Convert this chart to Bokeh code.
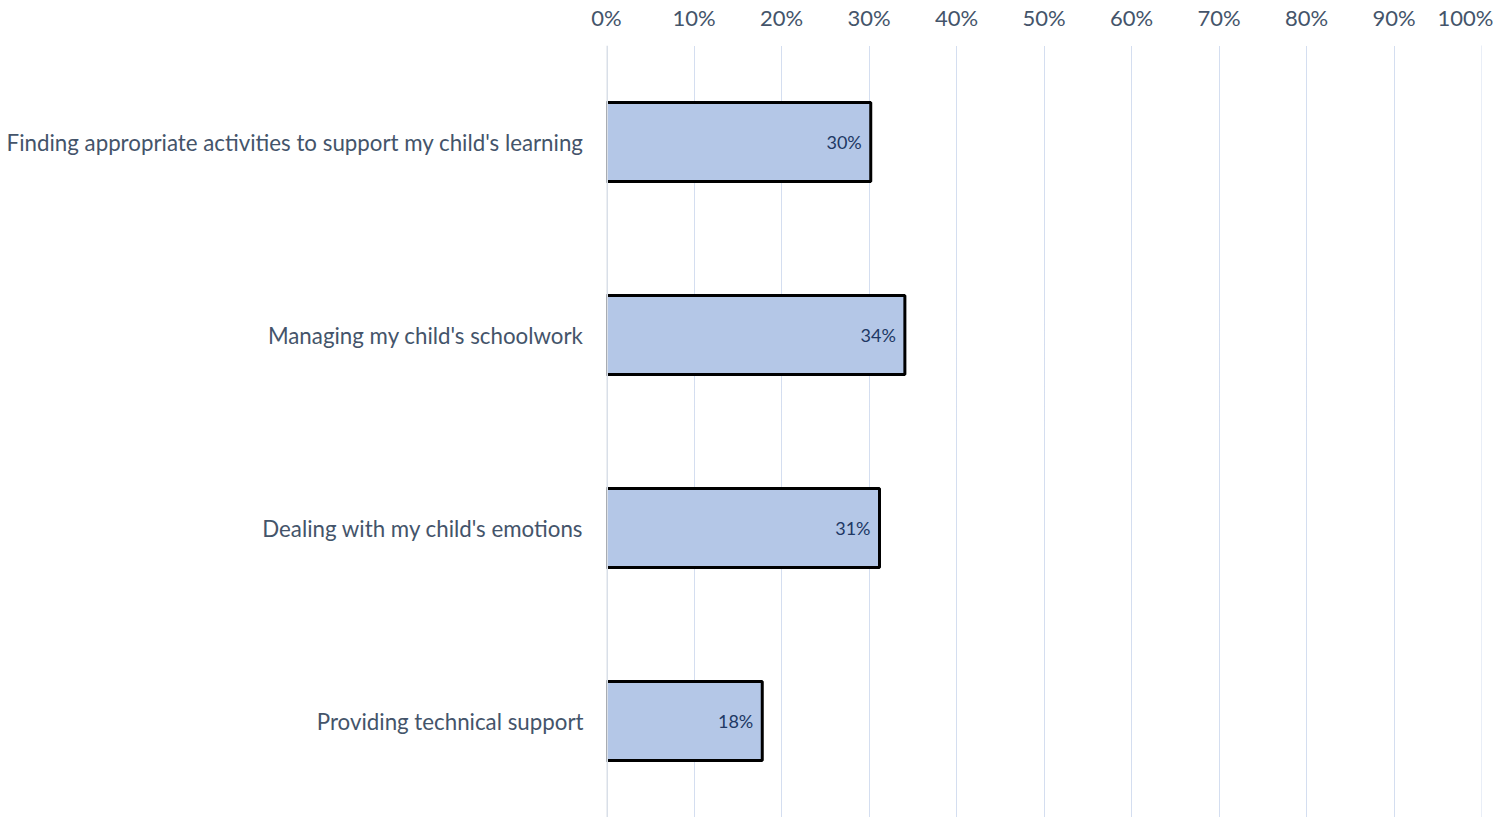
from bokeh.plotting import figure
from bokeh.models import ColumnDataSource, FixedTicker, NumeralTickFormatter, LabelSet, Span
from bokeh.core.properties import value
from bokeh.embed import file_html
from bokeh.resources import INLINE

categories = [
    "Finding appropriate activities to support my child's learning",
    "Managing my child's schoolwork",
    "Dealing with my child's emotions",
    "Providing technical support",
]
values = [0.302, 0.341, 0.312, 0.178]
labels = ["30%", "34%", "31%", "18%"]
ticks = [i / 10 for i in range(11)]

FONT = "Lato"
src = ColumnDataSource(dict(cat=categories, val=values, lab=labels))

p = figure(
    width=1493, height=817,
    y_range=list(reversed(categories)),
    x_range=(0, 1),
    x_axis_location="above",
    output_backend="svg", toolbar_location=None,
    min_border_left=606, min_border_right=12, min_border_top=38, min_border_bottom=0,
)
p.outline_line_color = None
p.background_fill_color = "white"

p.hbar(y="cat", right="val", left=0, height=0.41, source=src,
       fill_color="#B4C7E7", line_color="black", line_width=3)

p.add_layout(Span(location=0, dimension="height", line_color="#D9DFE8", line_width=3))
p.add_layout(Span(location=ticks[-1], dimension="height", line_color="#A9BCE0",
                  line_width=1, line_dash="1 1"))

p.add_layout(LabelSet(x="val", y="cat", text="lab", source=src, x_offset=-9,
                      text_align="right", text_baseline="middle",
                      text_font=value(FONT), text_font_size="18px", text_color="#203864"))

p.xaxis.ticker = FixedTicker(ticks=ticks)
p.xaxis.formatter = NumeralTickFormatter(format="0%")
p.xaxis.axis_line_color = None
p.xaxis.major_tick_line_color = None
p.xaxis.minor_tick_line_color = None
p.xaxis.major_label_text_font = FONT
p.xaxis.major_label_text_font_size = "22px"
p.xaxis.major_label_text_color = "#44546A"
p.xaxis.major_label_standoff = 9

p.yaxis.axis_line_color = None
p.yaxis.major_tick_line_color = None
p.yaxis.minor_tick_line_color = None
p.yaxis.major_label_text_font = FONT
p.yaxis.major_label_text_font_size = "22.3px"
p.yaxis.major_label_text_color = "#44546A"
p.yaxis.major_label_standoff = 17

p.xgrid.grid_line_color = "#A9BCE0"
p.xgrid.grid_line_dash = "1 1"
p.xgrid.grid_line_width = 1
p.ygrid.grid_line_color = None

open("out.html", "w").write(file_html(p, INLINE))
